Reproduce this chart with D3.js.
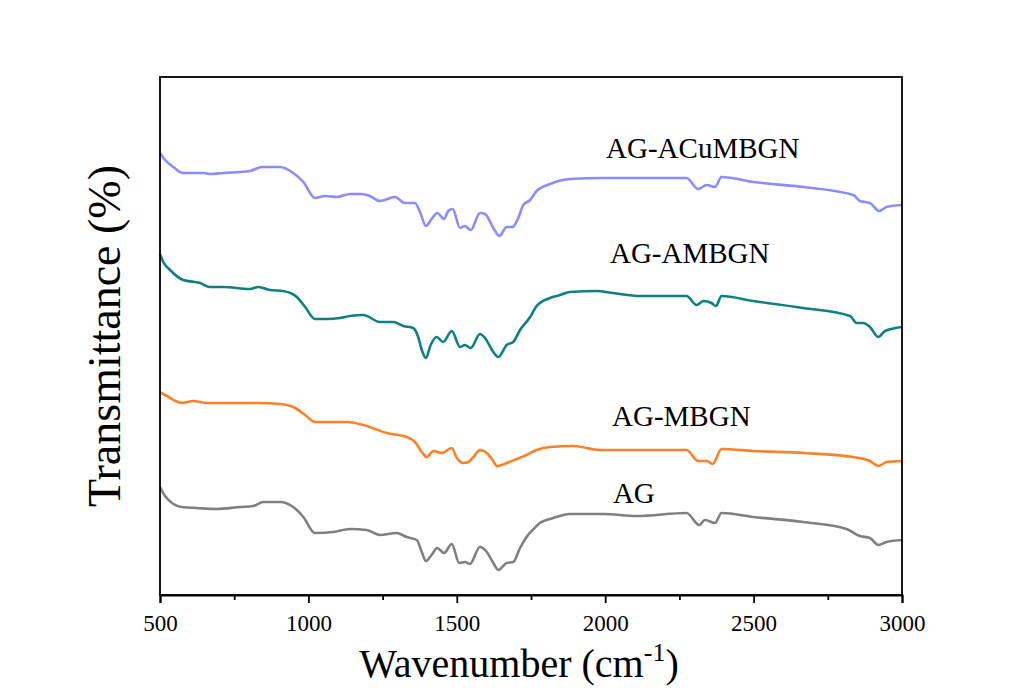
<!DOCTYPE html>
<html><head><meta charset="utf-8">
<script src="https://cdn.jsdelivr.net/npm/d3@7"></script>
<style>
html,body{margin:0;padding:0;background:#fff;}
text{font-family:"Liberation Serif","Times New Roman",serif;fill:#000;}
</style></head>
<body><svg id="c" width="1033" height="688"></svg>
<script>
// Wavenumber (cm-1) and transmittance (arbitrary, offset units)
const seriesNames = ["AG-ACuMBGN","AG-AMBGN","AG-MBGN","AG"];
const seriesColors = ["#8a8cff","#0e8080","#ff8027","#808080"];
const acuWn = [500,517,545,578,646,668,713,803,843,904,949,983,1022,1056,1095,1140,1180,1207,1241,1292,1325,1359,1376,1396,1415,1434,1457,1471,1486,1511,1527,1547,1578,1595,1623,1643,1668,1688,1707,1724,1747,1769,1814,1881,1992,2274,2313,2342,2370,2392,2499,2667,2836,2858,2892,2923,2948,3000];
const acuT  = [442,435,428,422,422,421,422,424,428,428,422,413,397,399,398,401,401,399,394,398,392,392,383,369,376,382,376,384,386,367,369,365,382,381,367,359,368,368,377,390,395,404,411,416,417,417,406,410,408,418,413,408,400,394,392,384,388,390];
const ambWn = [500,511,534,578,635,668,713,803,831,871,915,961,989,1022,1062,1106,1140,1185,1241,1286,1320,1353,1370,1382,1396,1412,1432,1454,1483,1511,1527,1547,1578,1595,1623,1640,1668,1690,1713,1747,1769,1814,1848,1881,1971,2027,2117,2274,2308,2331,2358,2373,2392,2499,2667,2825,2847,2869,2892,2920,2943,3000];
const ambT  = [341,333,325,315,312,308,308,306,308,305,304,298,288,276,276,277,279,280,273,273,269,267,258,245,237,250,258,253,264,248,250,247,261,257,243,238,250,253,265,278,289,297,300,303,304,302,299,299,290,294,292,289,299,294,287,279,272,272,268,258,264,268];
const mbWn  = [500,523,573,612,657,758,826,904,949,989,1022,1062,1129,1185,1264,1331,1359,1382,1399,1421,1449,1483,1500,1522,1539,1556,1578,1601,1618,1636,1668,1702,1735,1769,1814,1892,1982,2274,2313,2342,2362,2392,2499,2667,2836,2892,2920,2948,3000];
const mbT   = [203,199,192,194,192,192,192,191,188,180,173,173,173,170,162,158,153,143,138,144,142,147,137,132,133,138,145,142,136,129,132,136,140,145,148,149,145,145,134,134,131,146,144,142,138,134,129,133,134];
const agWn  = [500,517,573,624,691,770,814,848,904,949,983,1022,1084,1140,1196,1241,1297,1331,1365,1382,1396,1415,1434,1457,1483,1508,1527,1544,1578,1601,1623,1640,1668,1690,1713,1735,1769,1780,1825,1881,1993,2106,2274,2317,2336,2370,2392,2499,2667,2813,2858,2892,2920,2948,3000];
const agT   = [108,99,88,87,86,88,89,93,93,88,78,62,63,66,65,60,62,58,55,43,34,40,47,42,51,32,33,31,48,43,32,25,32,33,47,58,69,72,77,81,81,79,82,70,75,72,82,78,73,66,59,57,50,53,55];
const labelWn = [2003,2016,2023,2026];
const labelT  = [437,332,169,92];
const xMajorTicks = [500,1000,1500,2000,2500,3000];
const xMinorTicks = [750,1250,1750,2250,2750];

const svg = d3.select("#c");
const L=160,R=902,T=77,B=595;
const x = d3.scaleLinear().domain([500,3000]).range([L,R]);
const y = d3.scaleLinear().domain([0,518]).range([B,T]);

const wns=[acuWn,ambWn,mbWn,agWn], ts=[acuT,ambT,mbT,agT];
const line = d3.line().x(d=>x(d[0])).y(d=>y(d[1])).curve(d3.curveMonotoneX);
seriesNames.forEach((n,i)=>{
  const data = wns[i].map((w,j)=>[w,ts[i][j]]);
  svg.append("path").datum(data).attr("d",line).attr("fill","none")
    .attr("stroke",seriesColors[i]).attr("stroke-width",2.6).attr("stroke-linejoin","round");
  svg.append("text").attr("x",x(labelWn[i])).attr("y",y(labelT[i]))
    .attr("font-size",29).text(n);
});

// frame
svg.append("rect").attr("x",L).attr("y",T).attr("width",R-L).attr("height",B-T)
  .attr("fill","none").attr("stroke","#000").attr("stroke-width",1.8);

// x axis
const ax = svg.append("g").attr("transform",`translate(0,${B})`)
  .call(d3.axisBottom(x).tickValues(xMajorTicks).tickSize(8).tickPadding(12).tickFormat(d3.format("d")));
ax.select(".domain").attr("stroke-width",2);
ax.selectAll(".tick line").attr("stroke-width",1.8);
ax.selectAll(".tick text").attr("font-size",23).attr("font-family","Liberation Serif");
const axm = svg.append("g").attr("transform",`translate(0,${B})`)
  .call(d3.axisBottom(x).tickValues(xMinorTicks).tickSize(5).tickFormat(""));
axm.select(".domain").remove();
axm.selectAll(".tick line").attr("stroke-width",1.8);

// titles
const xt = svg.append("text").attr("x",(L+R)/2-12).attr("y",677).attr("text-anchor","middle").attr("font-size",40);
xt.append("tspan").text("Wavenumber (cm");
xt.append("tspan").attr("dy",-16).attr("font-size",26).text("-1");
xt.append("tspan").attr("dy",16).text(")");

svg.append("text").attr("transform",`translate(120,${(T+B)/2}) rotate(-90)`)
  .attr("text-anchor","middle").attr("font-size",46).text("Transmittance (%)");
</script></body></html>
